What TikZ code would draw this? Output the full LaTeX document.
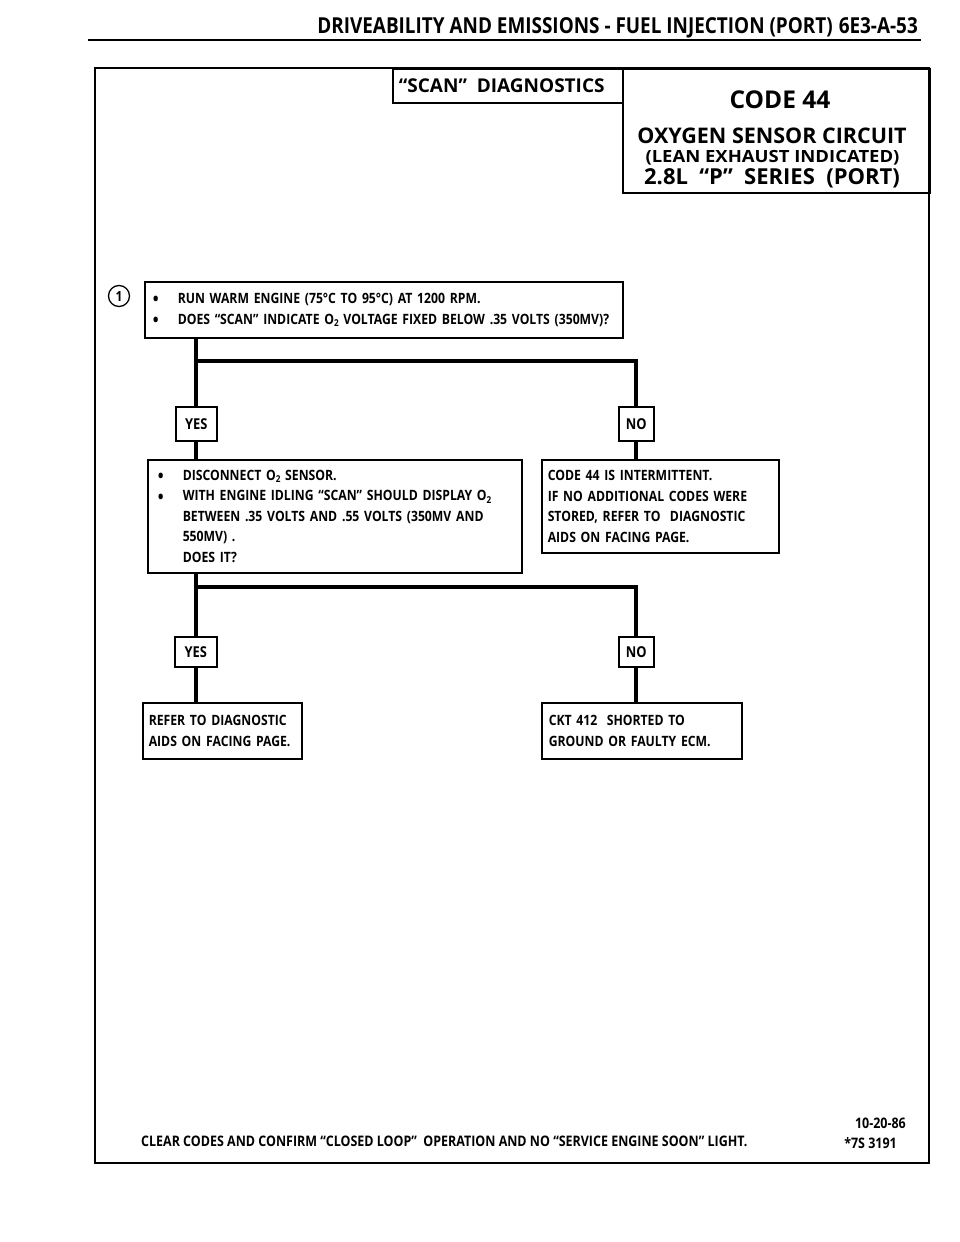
\documentclass[tikz,border=0pt]{standalone}
\usepackage{fontspec}
\setmainfont{Open Sans}[FakeStretch=0.86]
\newfontfamily\widef{Open Sans}
\newfontfamily\xwidef{Open Sans}[FakeStretch=1.1]
\newcommand{\fs}[2]{\fontsize{#1}{#2}\selectfont\bfseries}
\newcommand{\Osub}{O\raisebox{-2.6pt}{\fontsize{9.5}{9.5}\selectfont\bfseries 2}}
\newcommand{\bul}{\makebox[25pt][l]{\raisebox{-2.4pt}{\fontsize{18}{18}\selectfont\textbullet}}}
\newcommand{\ind}{\hspace*{25pt}}
\begin{document}
\begin{tikzpicture}[x=1pt,y=-1pt,
  thinbox/.style={draw, line width=1.5pt, inner ysep=0pt, anchor=north west, align=left},
  tag/.style={draw, line width=1.5pt, inner sep=0pt, anchor=north west, font=\fs{15}{15}},
  conn/.style={line width=4pt},
  txt/.style={inner sep=0pt}]
\useasboundingbox (0,0) rectangle (960,1242);
\fill[white] (0,0) rectangle (960,1242);
% header
\node[txt, anchor=base east, font=\fs{22}{22}] (hdr) at (918,33) {DRIVEABILITY AND EMISSIONS - FUEL INJECTION (PORT)\hspace{6pt}6E3-A-53};
\draw[line width=2.6pt] (88,40) -- (921,40);
% frame
\draw[line width=2.8pt] (95,68) rectangle (929,1163);
% title boxes
\node[thinbox, minimum width=230pt, minimum height=34pt, inner xsep=0pt, align=center, font=\widef\fs{19}{19}] (scan) at (392,68) {“SCAN”\ \ DIAGNOSTICS\hspace*{12pt}};
\node[thinbox, minimum width=307pt, minimum height=124pt] (codebox) at (622,68) {};
\node[txt, anchor=base, font=\widef\fs{24.5}{24.5}] (code) at (780,108) {CODE 44};
\node[txt, anchor=base, font=\widef\fs{21.5}{21.5}] (oxy) at (772,143.5) {OXYGEN SENSOR CIRCUIT};
\node[txt, anchor=base, font=\xwidef\fs{16.8}{16.8}] (lean) at (772.5,162) {(LEAN EXHAUST INDICATED)};
\node[txt, anchor=base, font=\widef\fs{22}{22}] (ser) at (772,184) {2.8L\ \ “P”\ \ SERIES\ \ (PORT)};
% step 1
\node[draw, circle, line width=1.3pt, minimum size=21pt, inner sep=0pt, font=\fs{14}{14}] (one) at (119,296) {1};
\node[thinbox, minimum width=478pt, minimum height=56pt, text width=462pt, inner xsep=8pt, font=\fs{14.2}{21}] (b1) at (144,281)
 {\bul RUN WARM ENGINE\ (75°C TO 95°C) AT 1200 RPM.\\
  \bul DOES “SCAN” INDICATE \Osub{} VOLTAGE FIXED BELOW .35 VOLTS (350MV)?};
\node[tag, minimum width=41pt, minimum height=34pt] (yes1) at (175,406) {YES};
\node[tag, minimum width=35pt, minimum height=34pt] (no1) at (618,406) {NO};
\node[thinbox, minimum width=374pt, minimum height=113pt, text width=354pt, inner xsep=10pt, font=\fs{14.2}{20.5}] (b2l) at (147,459)
 {\bul DISCONNECT \Osub{} SENSOR.\\
  \bul WITH ENGINE IDLING “SCAN” SHOULD DISPLAY \Osub\\
  \ind BETWEEN .35 VOLTS AND .55 VOLTS (350MV AND\\
  \ind 550MV) .\\
  \ind DOES IT?};
\node[thinbox, minimum width=237pt, minimum height=93pt, text width=225pt, inner xsep=6pt, font=\fs{14.2}{20.5}] (b2r) at (541,459)
 {CODE 44 IS INTERMITTENT.\\
  IF NO ADDITIONAL CODES WERE\\
  STORED, REFER TO\ \ DIAGNOSTIC\\
  AIDS ON FACING PAGE.};
\node[tag, minimum width=42pt, minimum height=30pt] (yes2) at (174,636) {YES};
\node[tag, minimum width=35pt, minimum height=30pt] (no2) at (618,636) {NO};
\node[thinbox, minimum width=159pt, minimum height=56pt, text width=147pt, inner xsep=6pt, font=\fs{14.2}{21}] (b3l) at (142,702)
 {REFER TO\ DIAGNOSTIC\\ AIDS ON FACING PAGE.};
\node[thinbox, minimum width=200pt, minimum height=56pt, text width=186pt, inner xsep=7pt, font=\fs{14.2}{21}] (b3r) at (541,702)
 {CKT 412\ \ SHORTED TO\\ GROUND OR FAULTY ECM.};
% connectors
\coordinate (j1) at (196,361);
\coordinate (j2) at (196,587);
\draw[conn] (yes1 |- b1.south) -- (yes1.north);
\draw[conn] (j1) -| (no1.north);
\draw[conn] (yes1.south) -- (yes1 |- b2l.north);
\draw[conn] (no1.south) -- (no1 |- b2r.north);
\draw[conn] (yes2 |- b2l.south) -- (yes2.north);
\draw[conn] (j2) -| (no2.north);
\draw[conn] (yes2.south) -- (yes2 |- b3l.north);
\draw[conn] (no2.south) -- (no2 |- b3r.north);
% footer
\node[txt, anchor=base east, font=\fs{14.5}{14.5}] (date) at (906,1128) {10-20-86};
\node[txt, anchor=base east, font=\fs{14.5}{14.5}] (num) at (897,1148) {*7S 3191};
\node[txt, anchor=base west, font=\fs{14.5}{14.5}] (clear) at (141,1146) {CLEAR CODES AND CONFIRM “CLOSED LOOP”\ \ OPERATION AND NO “SERVICE ENGINE SOON” LIGHT.};
\end{tikzpicture}
\end{document}
